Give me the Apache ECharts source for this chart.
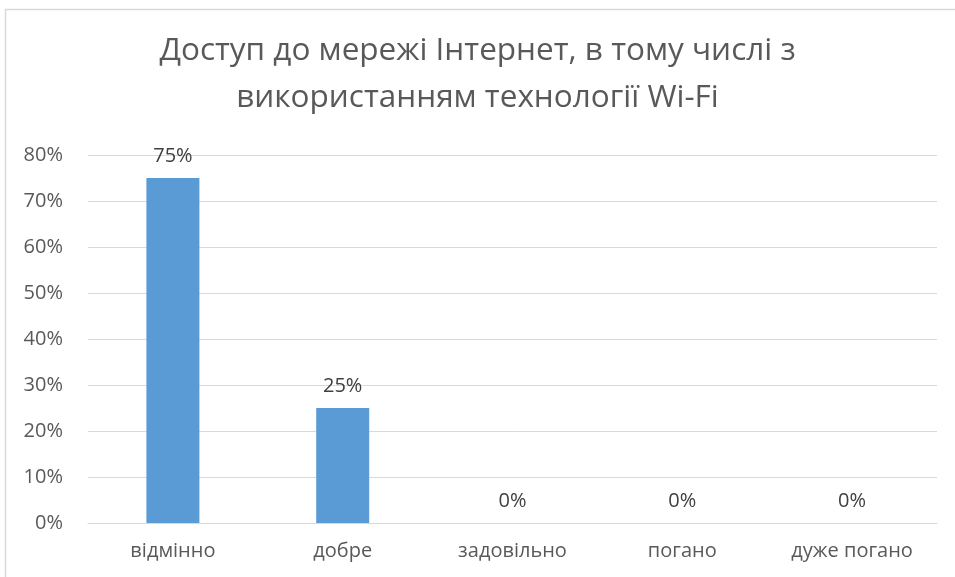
<!DOCTYPE html>
<html>
<head>
<meta charset="utf-8">
<script src="https://cdn.jsdelivr.net/npm/echarts@6/dist/echarts.min.js"></script>
<style>
  html, body { margin: 0; padding: 0; background: #fff; }
  #main { width: 955px; height: 577px; }
</style>
</head>
<body>
<div id="main"></div>
<script>
var categories = ["відмінно", "добре", "задовільно", "погано", "дуже погано"];
var values = [75, 25, 0, 0, 0];
var yTicks = [0, 10, 20, 30, 40, 50, 60, 70, 80];

var font = '"Open Sans", "Noto Sans", sans-serif';
var chart = echarts.init(document.getElementById("main"));
chart.setOption({
  animation: false,
  backgroundColor: "#fff",
  textStyle: { fontFamily: font },
  graphic: [{
    type: "rect",
    shape: { x: 5.5, y: 9.5, width: 1000, height: 1000 },
    style: { fill: "none", stroke: "#d9d9d9", lineWidth: 1.5 },
    silent: true
  }],
  title: {
    text: "Доступ до мережі Інтернет, в тому числі з\nвикористанням технології Wi-Fi",
    left: "center",
    top: 23,
    textStyle: { fontFamily: font, fontSize: 31.5, fontWeight: "normal", color: "#595959", lineHeight: 47 }
  },
  grid: { left: 88, right: 18, top: 155, bottom: 54 },
  xAxis: {
    type: "category",
    data: categories,
    axisLine: { lineStyle: { color: "#d9d9d9" } },
    axisTick: { show: false },
    axisLabel: { color: "#595959", fontSize: 20, margin: 18 }
  },
  yAxis: {
    type: "value",
    min: yTicks[0],
    max: yTicks[yTicks.length - 1],
    interval: 10,
    axisLine: { show: false },
    axisTick: { show: false },
    splitLine: { lineStyle: { color: "#d9d9d9" } },
    axisLabel: { color: "#595959", fontSize: 20, margin: 25, formatter: "{value}%" }
  },
  series: [{
    type: "bar",
    data: values,
    barWidth: 53,
    itemStyle: { color: "#5B9BD5" },
    label: {
      show: true,
      position: "top",
      distance: 12,
      color: "#404040",
      fontSize: 20,
      formatter: "{c}%"
    }
  }]
});
</script>
</body>
</html>
